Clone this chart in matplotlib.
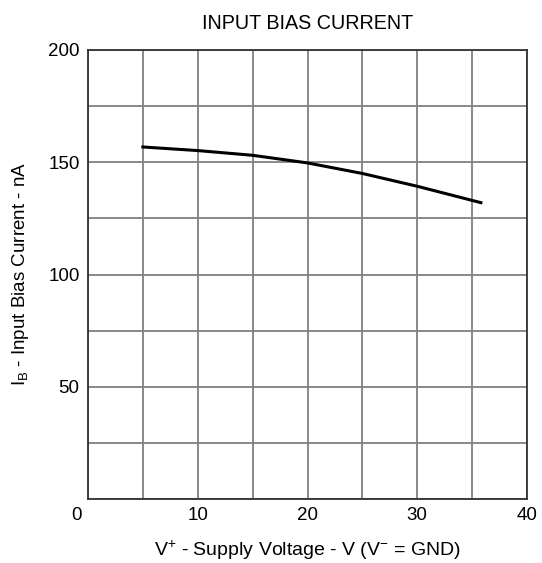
import matplotlib
matplotlib.use("Agg")
import matplotlib.pyplot as plt
import matplotlib.transforms as mtransforms
import numpy as np

plt.rcParams['font.family'] = ['Liberation Sans', 'DejaVu Sans']
plt.rcParams['mathtext.fontset'] = 'custom'
plt.rcParams['mathtext.rm'] = 'Liberation Sans'
plt.rcParams['mathtext.it'] = 'Liberation Sans'

# data
supply_voltage = [5, 10, 15, 20, 25, 30, 35.8]
bias_current = [156.8, 155.2, 153.1, 149.7, 145.0, 139.3, 132.0]
x_ticks = [0, 10, 20, 30, 40]
y_ticks = [50, 100, 150, 200]

fig = plt.figure(figsize=(5.42, 5.63), dpi=100)
ax = fig.add_axes([88/542, 1-499/563, (527-88)/542, (499-50)/563])

ax.set_xlim(0, 40)
ax.set_ylim(0, 200)

ax.set_xticks(x_ticks)
ax.set_xticklabels([str(v) for v in x_ticks])
ax.set_xticks(np.arange(0, 41, 5), minor=True)
ax.set_yticks(y_ticks)
ax.set_yticklabels([str(v) for v in y_ticks])
ax.set_yticks(np.arange(0, 201, 25), minor=True)
ax.grid(True, which='both', color='#808080', linewidth=1.3)
ax.set_axisbelow(True)
ax.tick_params(which='both', length=0, labelsize=13.5)
ax.tick_params(axis='x', pad=6)
ax.tick_params(axis='y', pad=6)

# shift the "0" label to the corner
lbl0 = ax.get_xticklabels()[0]
lbl0.set_transform(lbl0.get_transform() + mtransforms.ScaledTranslation(-12/100, 0, fig.dpi_scale_trans))

for s in ax.spines.values():
    s.set_color('#333333')
    s.set_linewidth(1.3)

ax.plot(supply_voltage, bias_current, color='black', linewidth=2.2)

ax.set_title('INPUT BIAS CURRENT', fontsize=14.2, pad=15)
ax.set_xlabel(r'V$^{+}$ - Supply Voltage - V (V$^{-}$ = GND)', fontsize=14, labelpad=10)
ax.set_ylabel(r'I$_{\mathregular{B}}$ - Input Bias Current - nA', fontsize=13.5, labelpad=12)

fig.savefig('out.png', dpi=100)
